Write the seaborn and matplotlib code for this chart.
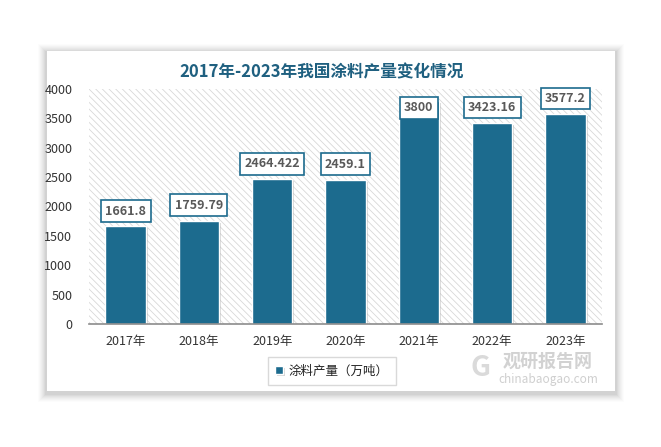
import matplotlib
matplotlib.use("Agg")
import matplotlib.pyplot as plt
import matplotlib.patheffects as pe
from matplotlib.patches import Rectangle
import pandas as pd
import seaborn as sns

# data
years = ["2017年", "2018年", "2019年", "2020年", "2021年", "2022年", "2023年"]
output = [1661.8, 1759.79, 2464.422, 2459.1, 3800, 3423.16, 3577.2]
value_labels = ["1661.8", "1759.79", "2464.422", "2459.1", "3800", "3423.16", "3577.2"]
series_name = "涂料产量（万吨）"
title = "2017年-2023年我国涂料产量变化情况"

bar_color = "#1c6b8e"
title_color = "#1f6080"

sns.set_theme(style="white")
plt.rcParams["font.family"] = ["Noto Sans CJK SC", "DejaVu Sans"]
plt.rcParams["hatch.linewidth"] = 0.6
plt.rcParams["hatch.color"] = "#d8d8d8"

df = pd.DataFrame({"year": years, "value": output})

fig = plt.figure(figsize=(6.61, 4.47), dpi=100)
fig.patch.set_facecolor("white")

# card with soft shadow
W, H = 661.0, 447.0
cx0, cy0, cx1, cy1 = 47, 51, 615, 391
for i, a in enumerate([0.012, 0.015, 0.018, 0.02, 0.022, 0.025, 0.03, 0.035]):
    g = 9 - i
    fig.patches.append(Rectangle(((cx0 - g) / W, 1 - (cy1 + g + 2) / H),
                                 (cx1 - cx0 + 2 * g) / W, (cy1 - cy0 + 2 * g) / H,
                                 transform=fig.transFigure, facecolor="black",
                                 edgecolor="none", alpha=a, zorder=-3))
fig.patches.append(Rectangle((cx0 / W, 1 - cy1 / H), (cx1 - cx0) / W, (cy1 - cy0) / H,
                             transform=fig.transFigure, facecolor="white",
                             edgecolor="none", zorder=-2))

ax = fig.add_axes([89 / W, 1 - 324 / H, (602 - 89) / W, (324 - 89) / H])
ax.set_facecolor("none")

# hatched plot background
ax.add_patch(Rectangle((0, 0), 1, 1, transform=ax.transAxes, facecolor="white",
                       edgecolor="#d8d8d8", hatch="\\\\\\\\\\", lw=0, zorder=0))

sns.barplot(data=df, x="year", y="value", color=bar_color, width=0.55,
            saturation=1, label=series_name, ax=ax, zorder=2)
for p in ax.patches[1:]:
    p.set_edgecolor("white")
    p.set_linewidth(1.0)
    p.set_path_effects([pe.SimplePatchShadow(offset=(1.5, -1.5), shadow_rgbFace="#888888",
                                             alpha=0.35), pe.Normal()])

ax.set_ylim(0, 4000)
ax.set_xlim(-0.5, 6.5)
ax.set_yticks(range(0, 4001, 500))
ax.set_xlabel("")
ax.set_ylabel("")
ax.tick_params(axis="both", length=0, labelsize=9, colors="#333333")
ax.tick_params(axis="x", pad=8)
ax.tick_params(axis="y", pad=12)
for s in ["top", "right", "left"]:
    ax.spines[s].set_visible(False)
ax.spines["bottom"].set_color("#8c8c8c")
ax.spines["bottom"].set_linewidth(1.2)
ax.spines["bottom"].set_zorder(3)

# value labels
for i, (v, lab) in enumerate(zip(output, value_labels)):
    off = -5 if v >= 3700 else 11
    ax.annotate(lab, xy=(i, v), xytext=(0, off), textcoords="offset points",
                ha="center", va="center", fontsize=9, fontweight="bold", color="#595959",
                bbox=dict(boxstyle="square,pad=0.35", fc="white", ec=bar_color, lw=1.2),
                zorder=5)

fig.text(322 / W, 1 - 72 / H, title, ha="center", va="center", fontsize=12,
         fontweight="bold", color=title_color)

leg = ax.legend(loc="center", bbox_to_anchor=(332 / W, 1 - 371 / H),
                bbox_transform=fig.transFigure, frameon=True, fancybox=False,
                fontsize=9, handlelength=0.6, handleheight=0.6, handletextpad=0.5,
                borderpad=0.6, borderaxespad=0)
leg.get_frame().set_edgecolor("#d0d0d0")
leg.get_frame().set_linewidth(1)
for t in leg.get_texts():
    t.set_color("#222222")

# watermark
fig.text(548 / W, 1 - 361 / H, "观研报告网", ha="center", va="center", fontsize=13,
         fontweight="bold", color="#d2d2d2", zorder=1)
fig.text(548 / W, 1 - 380 / H, "chinabaogao.com", ha="center", va="center", fontsize=8.5,
         color="#cfcfcf", zorder=1)
fig.text(480 / W, 1 - 368 / H, "G", ha="center", va="center", fontsize=20,
         fontweight="bold", color="#dadada", zorder=1)

fig.savefig("out.png", dpi=100)
